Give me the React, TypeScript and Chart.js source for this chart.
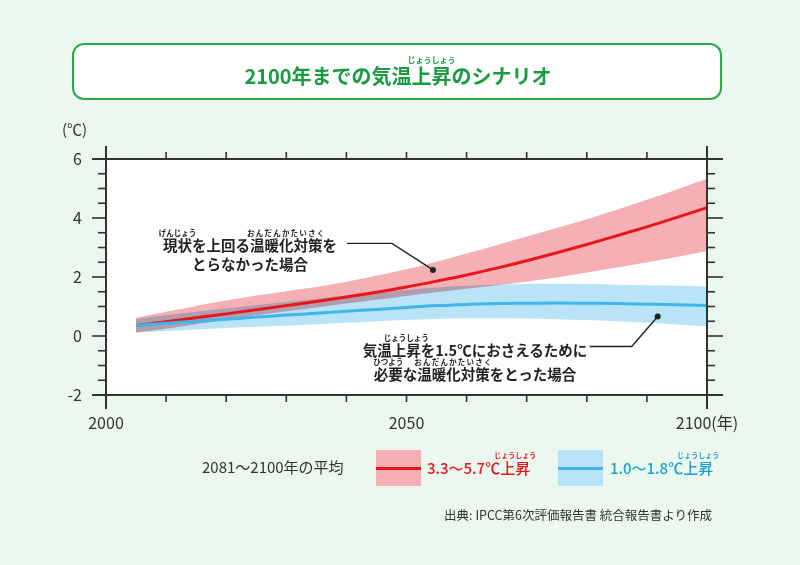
import React, { useEffect, useRef } from "react";
import { Chart, registerables } from "chart.js";

const YEARS = [2005, 2010, 2015, 2020, 2025, 2030, 2035, 2040, 2045, 2050, 2055, 2060, 2065, 2070, 2075, 2080, 2085, 2090, 2095, 2100];
const RED_MID = [0.36, 0.48, 0.62, 0.75, 0.89, 1.03, 1.17, 1.32, 1.48, 1.66, 1.86, 2.07, 2.3, 2.55, 2.82, 3.1, 3.4, 3.7, 4.02, 4.35];
const RED_HIGH = [0.62, 0.82, 1.02, 1.2, 1.37, 1.52, 1.66, 1.84, 2.04, 2.26, 2.52, 2.8, 3.08, 3.37, 3.66, 3.96, 4.28, 4.62, 4.97, 5.33];
const RED_LOW = [0.12, 0.25, 0.4, 0.55, 0.7, 0.84, 0.97, 1.1, 1.23, 1.36, 1.48, 1.6, 1.72, 1.85, 1.98, 2.15, 2.32, 2.5, 2.68, 2.87];
const BLUE_MID = [0.36, 0.43, 0.5, 0.57, 0.64, 0.71, 0.77, 0.84, 0.9, 0.97, 1.03, 1.07, 1.1, 1.11, 1.12, 1.11, 1.1, 1.08, 1.06, 1.03];
const BLUE_HIGH = [0.58, 0.7, 0.82, 0.93, 1.04, 1.15, 1.26, 1.37, 1.47, 1.56, 1.64, 1.7, 1.74, 1.76, 1.77, 1.76, 1.74, 1.72, 1.7, 1.68];
const BLUE_LOW = [0.12, 0.17, 0.22, 0.27, 0.31, 0.35, 0.4, 0.45, 0.5, 0.55, 0.58, 0.6, 0.6, 0.59, 0.57, 0.54, 0.5, 0.45, 0.39, 0.33];

const X_TICK_LABELS = ["2000", "2050", "2100(年)"];
const X_MINOR_YEARS = [2000, 2010, 2020, 2030, 2040, 2050, 2060, 2070, 2080, 2090, 2100];
const Y_MINOR_VALUES = [-2, -1.5, -1, -0.5, 0, 0.5, 1, 1.5, 2, 2.5, 3, 3.5, 4, 4.5, 5, 5.5, 6];

// annotation anchor points (year, value)
const ANCHOR_RED = [2054.4, 2.24];
const ANCHOR_BLUE = [2091.8, 0.66];

const RED = "#e8161b";
const BLUE = "#3fb6ea";
const RED_BAND = "#f4b0b4";
const BLUE_BAND = "#b9e4f7";
const INK = "#333333";
const FONT = "'Noto Sans CJK JP', 'Noto Sans', sans-serif";

const pts = (vals: number[]) => YEARS.map((y, i) => ({ x: y, y: vals[i] }));

const multiplyPlugin = {
  id: "bandMultiply",
  beforeDatasetDraw(chart: any, args: any) {
    const ds = chart.data.datasets[args.index];
    if (ds && ds.isBand) {
      chart.ctx.save();
      chart.ctx.globalCompositeOperation = "multiply";
    }
  },
  afterDatasetDraw(chart: any, args: any) {
    const ds = chart.data.datasets[args.index];
    if (ds && ds.isBand) chart.ctx.restore();
  },
};

Chart.register(multiplyPlugin as any);
Chart.register(...registerables);

const framePlugin = {
  id: "frame",
  beforeDraw(chart: any) {
    const { ctx, chartArea: a } = chart;
    ctx.save();
    ctx.fillStyle = "#ffffff";
    ctx.fillRect(a.left, a.top, a.right - a.left, a.bottom - a.top);
    ctx.restore();
  },
  afterDraw(chart: any) {
    const { ctx } = chart;
    const xs = chart.scales.x;
    const ys = chart.scales.y;
    const L = xs.getPixelForValue(2000);
    const R = xs.getPixelForValue(2100);
    const T = ys.getPixelForValue(6);
    const B = ys.getPixelForValue(-2);
    ctx.save();
    ctx.strokeStyle = INK;
    ctx.lineCap = "butt";
    ctx.lineWidth = 2;
    const line = (x1: number, y1: number, x2: number, y2: number) => {
      ctx.beginPath();
      ctx.moveTo(x1, y1);
      ctx.lineTo(x2, y2);
      ctx.stroke();
    };
    line(L - 14, T, R + 16, T);
    line(L - 14, B, R + 16, B);
    line(L, T - 13, L, B + 14);
    line(R, T - 13, R, B + 14);
    ctx.lineWidth = 1.6;
    X_MINOR_YEARS.forEach((yr) => {
      const px = xs.getPixelForValue(yr);
      line(px, T, px, T - 7);
      line(px, B, px, B + 7);
    });
    Y_MINOR_VALUES.forEach((v) => {
      const py = ys.getPixelForValue(v);
      const major = Math.abs(v % 2) < 1e-9;
      line(L - (major ? 14 : 8), py, L, py);
      line(R, py, R + (major ? 16 : 8), py);
    });
    // leader lines
    ctx.lineWidth = 1.4;
    ctx.strokeStyle = "#222";
    ctx.fillStyle = "#222";
    const leader = (ax: number, ay: number, sx: number, bx: number, dy: number) => {
      const px = xs.getPixelForValue(ax);
      const py = ys.getPixelForValue(ay);
      ctx.beginPath();
      ctx.moveTo(px + sx, py + dy);
      ctx.lineTo(px + bx, py + dy);
      ctx.lineTo(px, py);
      ctx.stroke();
      ctx.beginPath();
      ctx.arc(px, py, 3, 0, Math.PI * 2);
      ctx.fill();
    };
    leader(ANCHOR_RED[0], ANCHOR_RED[1], -86, -41, -26.5);
    leader(ANCHOR_BLUE[0], ANCHOR_BLUE[1], -68, -26, 30);
    ctx.restore();
  },
};

function Rb({ base, rt, size = 7.5, ls = 0 }: { base: string; rt: string; size?: number; ls?: number }) {
  return (
    <span style={{ position: "relative", display: "inline-block" }}>
      {base}
      <span
        style={{
          position: "absolute",
          left: "50%",
          bottom: "100%",
          transform: "translateX(-50%)",
          fontSize: size,
          lineHeight: 1,
          whiteSpace: "nowrap",
          letterSpacing: ls,
          fontWeight: 700,
        }}
      >
        {rt}
      </span>
    </span>
  );
}

const abs = (left: number, top: number, extra: any = {}) => ({
  position: "absolute" as const,
  left,
  top,
  whiteSpace: "nowrap" as const,
  lineHeight: 1.2,
  ...extra,
});

export default function App() {
  const ref = useRef<HTMLCanvasElement>(null);
  useEffect(() => {
    const chart = new Chart(ref.current as HTMLCanvasElement, {
      type: "line",
      data: {
        datasets: [
          { label: "blue", data: pts(BLUE_MID), borderColor: BLUE, borderWidth: 3, pointRadius: 0, fill: false, order: 0, cubicInterpolationMode: "monotone" } as any,
          { label: "red", data: pts(RED_MID), borderColor: RED, borderWidth: 3, pointRadius: 0, fill: false, order: 1, cubicInterpolationMode: "monotone" } as any,
          { label: "redHigh", isBand: true, data: pts(RED_HIGH), borderWidth: 0, pointRadius: 0, backgroundColor: RED_BAND, fill: "+1", order: 2, cubicInterpolationMode: "monotone" } as any,
          { label: "redLow", data: pts(RED_LOW), borderWidth: 0, pointRadius: 0, fill: false, order: 3, cubicInterpolationMode: "monotone" } as any,
          { label: "blueHigh", isBand: true, data: pts(BLUE_HIGH), borderWidth: 0, pointRadius: 0, backgroundColor: BLUE_BAND, fill: "+1", order: 4, cubicInterpolationMode: "monotone" } as any,
          { label: "blueLow", data: pts(BLUE_LOW), borderWidth: 0, pointRadius: 0, fill: false, order: 5, cubicInterpolationMode: "monotone" } as any,
        ],
      },
      options: {
        animation: false,
        responsive: false,
        devicePixelRatio: 1,
        layout: { padding: { left: 0, top: 159, right: 93, bottom: 0 } },
        plugins: { legend: { display: false }, tooltip: { enabled: false }, title: { display: false } },
        scales: {
          x: {
            type: "linear",
            min: 2000,
            max: 2100,
            grid: { display: false, drawTicks: false },
            border: { display: false },
            ticks: {
              stepSize: 50,
              autoSkip: false,
              maxRotation: 0,
              padding: 18,
              color: INK,
              font: { size: 16, family: FONT },
              callback: (_v: any, i: number) => X_TICK_LABELS[i],
            },
            afterFit: (s: any) => {
              s.height = 170;
            },
          },
          y: {
            min: -2,
            max: 6,
            grid: { display: false, drawTicks: false },
            border: { display: false },
            ticks: { stepSize: 2, padding: 24, color: INK, font: { size: 16, family: FONT } },
            afterFit: (s: any) => {
              s.width = 106;
            },
          },
        },
      } as any,
      plugins: [framePlugin as any],
    });
    return () => chart.destroy();
  }, []);

  return (
    <div style={{ position: "absolute", left: 0, top: 0, width: 800, height: 565, background: "#eaf8ee", fontFamily: FONT, overflow: "hidden" }}>
      <canvas ref={ref} width={800} height={565} style={{ position: "absolute", left: 0, top: 0, width: 800, height: 565 }} />
      {/* title box */}
      <div style={{ position: "absolute", left: 72, top: 43, width: 650, height: 57, boxSizing: "border-box", border: "2px solid #2aa84a", borderRadius: 12, background: "#ffffff" }} />
      <div style={abs(0, 64, { width: 800, textAlign: "center", fontSize: 20, fontWeight: 700, color: "#1a9a41" })}>
        <span style={{ marginLeft: -4 }}>
          2100年までの気温<Rb base="上昇" rt="じょうしょう" size={8} />のシナリオ
        </span>
      </div>
      {/* y unit */}
      <div style={abs(62, 120, { fontSize: 15, color: INK })}>(℃)</div>
      {/* annotation red */}
      <div style={abs(250, 245, { transform: "translate(-50%,-50%)", fontSize: 14.5, fontWeight: 700, color: "#222" })}>
        <Rb base="現状" rt="げんじょう" />を上回る<Rb base="温暖化対策" rt="おんだんかたいさく" ls={1.2} />を
      </div>
      <div style={abs(250, 264, { transform: "translate(-50%,-50%)", fontSize: 14.5, fontWeight: 700, color: "#222" })}>
        とらなかった場合
      </div>
      {/* annotation blue */}
      <div style={abs(475, 350, { transform: "translate(-50%,-50%)", fontSize: 14.5, fontWeight: 700, color: "#222" })}>
        気温<Rb base="上昇" rt="じょうしょう" />を1.5℃におさえるために
      </div>
      <div style={abs(475, 374, { transform: "translate(-50%,-50%)", fontSize: 14.5, fontWeight: 700, color: "#222" })}>
        <Rb base="必要" rt="ひつよう" />な<Rb base="温暖化対策" rt="おんだんかたいさく" ls={1.2} />をとった場合
      </div>
      {/* legend */}
      <div style={abs(202, 467, { transform: "translateY(-50%)", fontSize: 15, color: INK })}>2081〜2100年の平均</div>
      <div style={{ position: "absolute", left: 376, top: 450, width: 45, height: 36, background: RED_BAND }}>
        <div style={{ position: "absolute", left: 0, top: 16.5, width: 45, height: 3, background: RED }} />
      </div>
      <div style={abs(427, 468, { transform: "translateY(-50%)", fontSize: 15, color: RED, fontWeight: 500 })}>
        3.3〜5.7℃<Rb base="上昇" rt="じょうしょう" size={7} />
      </div>
      <div style={{ position: "absolute", left: 558, top: 450, width: 45, height: 36, background: BLUE_BAND }}>
        <div style={{ position: "absolute", left: 0, top: 16.5, width: 45, height: 3, background: BLUE }} />
      </div>
      <div style={abs(610, 468, { transform: "translateY(-50%)", fontSize: 15, color: "#1ea0dc", fontWeight: 500 })}>
        1.0〜1.8℃<Rb base="上昇" rt="じょうしょう" size={7} />
      </div>
      {/* source */}
      <div style={abs(0, 514, { width: 712, textAlign: "right", transform: "translateY(-50%)", fontSize: 12.5, color: INK })}>
        出典: IPCC第6次評価報告書 統合報告書より作成
      </div>
    </div>
  );
}
